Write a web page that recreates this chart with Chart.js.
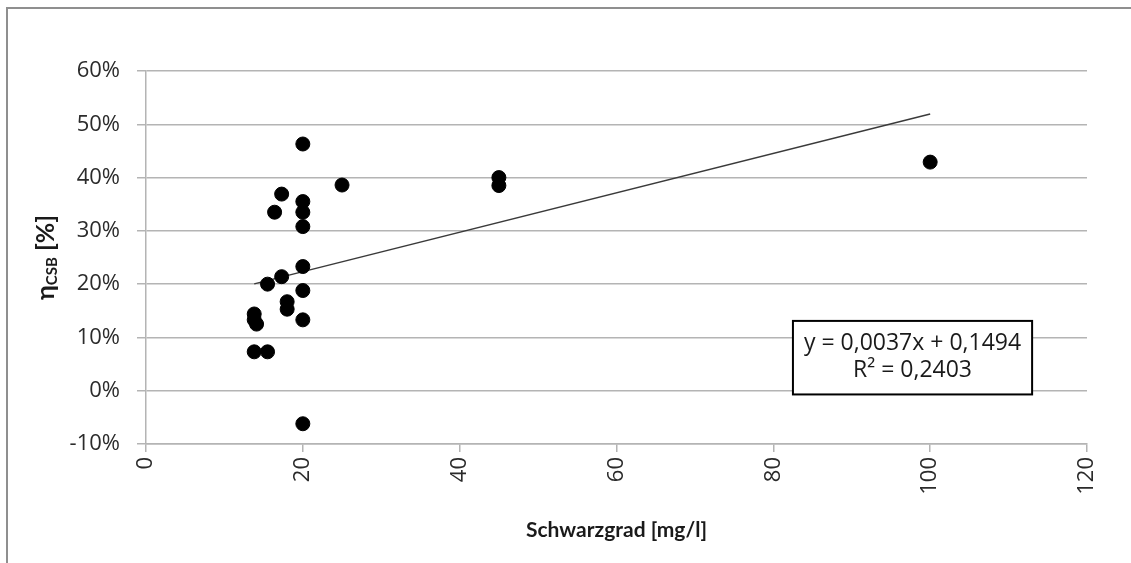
<!doctype html>
<html lang="de">
  <head>
    <meta charset="utf-8">
    <script src="https://cdn.jsdelivr.net/npm/chart.js"></script>
    <style>
      body { margin: 0; background: #fff; }
      #wrap { position: relative; width: 1131px; height: 563px; }
      #frame { position: absolute; left: 6px; top: 7px; right: -5px; bottom: -5px;
               border-top: 2px solid #8f8f8f; border-left: 2px solid #8f8f8f; }
      canvas { position: absolute; left: 0; top: 0; }
    </style>
  </head>
  <body>
    <div id="wrap">
      <div id="frame"></div>
      <canvas id="myChart" width="1131" height="563"></canvas>
    </div>
    <script>
      // Schwarzgrad [mg/l] and eta CSB (as fraction)
      var schwarzgrad = [20, 25, 17.3, 20, 16.4, 20, 20, 20, 17.3, 15.5, 20, 18, 18, 13.8, 13.8, 14.1, 20, 13.8, 15.5, 20, 45, 45, 100];
      var etaCSB = [0.463, 0.386, 0.369, 0.355, 0.335, 0.335, 0.308, 0.233, 0.214, 0.200, 0.188, 0.167, 0.153, 0.144, 0.133, 0.125, 0.133, 0.073, 0.073, -0.062, 0.400, 0.385, 0.429];

      // linear trendline end points (y = 0,0037x + 0,1494)
      var trendX = [13.8, 100];
      var trendY = [0.2005, 0.5194];

      var equationLines = ['y = 0,0037x + 0,1494', 'R² = 0,2403'];

      var xTicks = [0, 20, 40, 60, 80, 100, 120];
      var yTicks = [-0.1, 0, 0.1, 0.2, 0.3, 0.4, 0.5, 0.6];

      var fontFamily = '"Open Sans", Lato, sans-serif';
      var titleFamily = 'Lato, "Open Sans", sans-serif';
      var gridColor = '#b4b4b4';

      var points = [];
      for (var i = 0; i < schwarzgrad.length; i++) {
        points.push({ x: schwarzgrad[i], y: etaCSB[i] });
      }
      var trend = [];
      for (var t = 0; t < trendX.length; t++) {
        trend.push({ x: trendX[t], y: trendY[t] });
      }

      // y axis title with subscript, plus the equation box
      var extras = {
        id: 'extras',
        afterDraw: function (chart) {
          var ctx = chart.ctx;
          var area = chart.chartArea;

          ctx.save();
          ctx.translate(46, (area.top + area.bottom) / 2);
          ctx.rotate(-Math.PI / 2);
          ctx.fillStyle = '#1a1a1a';
          ctx.textBaseline = 'middle';
          var big = 'bold 25px ' + titleFamily;
          var small = 'bold 15px ' + titleFamily;
          ctx.font = big;
          var w1 = ctx.measureText('η').width;
          var w3 = ctx.measureText(' [%]').width;
          ctx.font = small;
          var w2 = ctx.measureText('CSB').width;
          var x0 = -(w1 + w2 + w3) / 2;
          ctx.textAlign = 'left';
          ctx.font = big;
          ctx.fillText('η', x0, 0);
          ctx.font = small;
          ctx.fillText('CSB', x0 + w1, 6);
          ctx.font = big;
          ctx.fillText(' [%]', x0 + w1 + w2, 0);
          ctx.restore();

          var xs = chart.scales.x;
          var ys = chart.scales.y;
          var bx = xs.getPixelForValue(82.5);
          var bw = xs.getPixelForValue(113) - bx;
          var by = ys.getPixelForValue(0.131);
          var bh = ys.getPixelForValue(-0.007) - by;
          ctx.save();
          ctx.fillStyle = '#fff';
          ctx.fillRect(bx, by, bw, bh);
          ctx.strokeStyle = '#000';
          ctx.lineWidth = 2;
          ctx.strokeRect(bx, by, bw, bh);
          ctx.fillStyle = '#1a1a1a';
          ctx.font = '23px ' + fontFamily;
          ctx.textAlign = 'center';
          ctx.textBaseline = 'middle';
          ctx.fillText(equationLines[0], bx + bw / 2, by + bh * 0.3);
          ctx.fillText(equationLines[1], bx + bw / 2, by + bh * 0.68);
          ctx.restore();
        }
      };

      var canvas = document.getElementById('myChart');
      var setup = {
        type: 'scatter',
        data: {
          datasets: [
            {
              label: 'Messwerte',
              data: points,
              backgroundColor: '#000',
              borderColor: '#000',
              pointRadius: 7,
              pointHoverRadius: 7
            },
            {
              type: 'line',
              label: 'Linear',
              data: trend,
              borderColor: '#3a3a3a',
              borderWidth: 1.5,
              pointRadius: 0,
              fill: false
            }
          ]
        },
        options: {
          responsive: false,
          animation: false,
          layout: {
            padding: { top: 71, right: 44, bottom: 0, left: 0 }
          },
          plugins: {
            legend: { display: false },
            title: { display: false },
            tooltip: { enabled: false }
          },
          scales: {
            x: {
              type: 'linear',
              min: 0,
              max: 120,
              afterBuildTicks: function (scale) {
                scale.ticks = xTicks.map(function (v) { return { value: v }; });
              },
              afterFit: function (scale) { scale.height = 119; },
              grid: {
                drawOnChartArea: false,
                drawTicks: true,
                tickLength: 8,
                color: gridColor,
                lineWidth: 1.5
              },
              border: { display: true, color: gridColor, width: 1.5 },
              ticks: {
                minRotation: 90,
                maxRotation: 90,
                padding: 5,
                color: '#2b2b2b',
                font: { family: fontFamily, size: 22 }
              },
              title: {
                display: true,
                text: 'Schwarzgrad [mg/l]',
                color: '#1a1a1a',
                padding: { top: 0, bottom: 20 },
                font: { family: titleFamily, size: 21, weight: 'bold' }
              }
            },
            y: {
              min: -0.1,
              max: 0.6,
              afterBuildTicks: function (scale) {
                scale.ticks = yTicks.map(function (v) { return { value: v }; });
              },
              afterFit: function (scale) { scale.width = 146; },
              grid: {
                color: gridColor,
                lineWidth: 1.5,
                drawTicks: true,
                tickLength: 9
              },
              border: { display: true, color: gridColor, width: 1.5 },
              ticks: {
                padding: 17,
                color: '#2b2b2b',
                font: { family: fontFamily, size: 22 },
                callback: function (v) { return Math.round(v * 100) + '%'; }
              }
            }
          }
        },
        plugins: [extras]
      };
      var chart = new Chart(canvas, setup);
    </script>
  </body>
</html>
